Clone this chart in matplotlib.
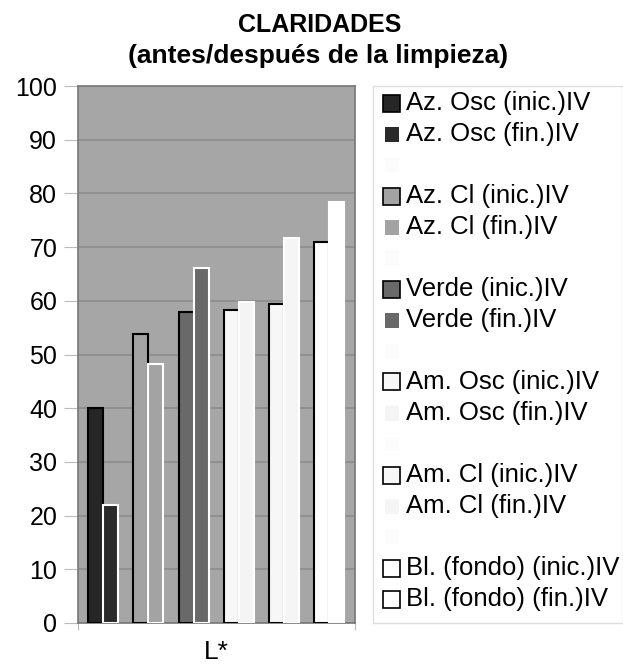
import matplotlib
matplotlib.use("Agg")
import matplotlib.pyplot as plt
from matplotlib.patches import Rectangle

plt.rcParams['font.family'] = ['Liberation Sans', 'DejaVu Sans']

series = ["Az. Osc (inic.)IV", "Az. Osc (fin.)IV", "",
          "Az. Cl (inic.)IV", "Az. Cl (fin.)IV", "",
          "Verde (inic.)IV", "Verde (fin.)IV", "",
          "Am. Osc (inic.)IV", "Am. Osc (fin.)IV", "",
          "Am. Cl (inic.)IV", "Am. Cl (fin.)IV", "",
          "Bl. (fondo) (inic.)IV", "Bl. (fondo) (fin.)IV"]
values = [40.0, 22.0, 0,
          53.8, 48.2, 0,
          57.9, 66.1, 0,
          58.3, 59.8, 0,
          59.4, 71.7, 0,
          70.9, 78.4]
fills = ["#262626", "#2a2a2a", None,
         "#a3a3a3", "#a3a3a3", None,
         "#696969", "#696969", None,
         "#f7f7f7", "#f4f4f4", None,
         "#f7f7f7", "#f5f5f5", None,
         "#ffffff", "#ffffff"]
edges = ["#000000", "#ffffff", None,
         "#000000", "#ffffff", None,
         "#000000", "#ffffff", None,
         "#000000", "#ffffff", None,
         "#000000", "#ffffff", None,
         "#000000", "#ffffff"]
yticks = [0, 10, 20, 30, 40, 50, 60, 70, 80, 90, 100]

W, H = 623, 669
fig = plt.figure(figsize=(W/100, H/100), dpi=100)
ax = fig.add_axes([78/W, 1-623/H, 277/W, 537/H])
ax.set_facecolor("#a6a6a6")

for i, (v, fc, ec) in enumerate(zip(values, fills, edges)):
    if fc is None:
        continue
    ax.bar(i, v, width=1.0, color=fc, edgecolor=ec, linewidth=1.5, zorder=3)

ax.set_ylim(0, 100)
ax.set_xlim(-1.17, 17.2)
ax.set_yticks(yticks)
ax.set_yticklabels([str(t) for t in yticks], fontsize=18)
ax.yaxis.grid(True, color="#8c8c8c", linewidth=1.2, zorder=0)
ax.set_axisbelow(True)
ax.set_xticks([-1.17, 17.2])
ax.set_xticklabels([])
ax.tick_params(axis='x', length=5, color="#bbbbbb")
ax.tick_params(axis='y', length=10, color="#bbbbbb", pad=5)
for s in ax.spines.values():
    s.set_color("#777777")
    s.set_linewidth(1.2)
ax.set_xlabel("L*", fontsize=19, labelpad=4)

fig.text(320/W, 1-25/H, "CLARIDADES", ha="center", va="center",
         fontsize=18, fontweight="bold")
fig.text(318/W, 1-56/H, "(antes/después de la limpieza)", ha="center",
         va="center", fontsize=19, fontweight="bold")

# legend box (drawn manually)
fig.patches.append(Rectangle((373/W, 1-623/H), (W-373)/W, (623-86)/H,
                             transform=fig.transFigure, facecolor="white",
                             edgecolor="#dddddd", linewidth=1.0, zorder=1))
y0, pitch = 103, 31.0
for i, (lab, fc, ec) in enumerate(zip(series, fills, edges)):
    yc = y0 + i * pitch
    if fc is None:
        fig.patches.append(Rectangle((385/W, 1-(yc+7)/H), 14/W, 14/H,
                                     transform=fig.transFigure,
                                     facecolor="#fbfbfb", edgecolor="none",
                                     zorder=2))
        continue
    if ec == "#000000" or fc == "#ffffff":
        fig.patches.append(Rectangle((383/W, 1-(yc+8.5)/H), 17/W, 17/H,
                                     transform=fig.transFigure, facecolor=fc,
                                     edgecolor="#000000", linewidth=1.2,
                                     zorder=2))
    else:
        fig.patches.append(Rectangle((385/W, 1-(yc+8)/H), 14/W, 15/H,
                                     transform=fig.transFigure, facecolor=fc,
                                     edgecolor="none", zorder=2))
    fig.text(406/W, 1-yc/H, lab, ha="left", va="center", fontsize=18.5,
             zorder=3)

fig.savefig("out.png", dpi=100)
